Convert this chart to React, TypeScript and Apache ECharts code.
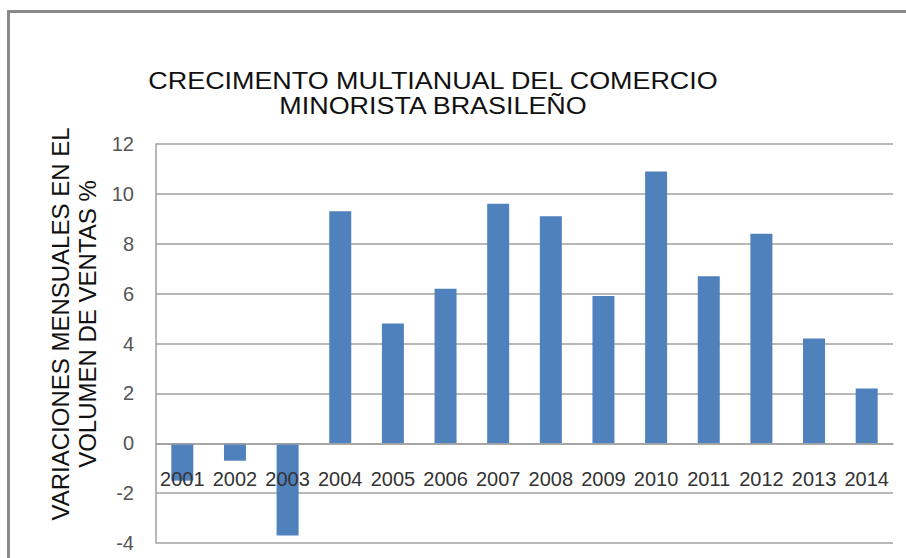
import React, { useEffect, useRef } from "react";
import * as echarts from "echarts";

const categories = ["2001", "2002", "2003", "2004", "2005", "2006", "2007", "2008", "2009", "2010", "2011", "2012", "2013", "2014"];
const values = [-1.5, -0.7, -3.7, 9.3, 4.8, 6.2, 9.6, 9.1, 5.9, 10.9, 6.7, 8.4, 4.2, 2.2];
const titleLines = ["CRECIMENTO MULTIANUAL DEL COMERCIO", "MINORISTA BRASILEÑO"];
const yNameLines = ["VARIACIONES MENSUALES EN EL", "VOLUMEN DE VENTAS %"];
const yMin = -4;
const yMax = 12;
const yStep = 2;

export default function App() {
  const ref = useRef<HTMLDivElement>(null);
  useEffect(() => {
    if (!ref.current) return;
    const chart = echarts.init(ref.current, null, { renderer: "svg" });
    const font = "'Liberation Sans', Arial, sans-serif";
    const H = 558;
    const grid = { left: 156, right: 13, top: 144, bottom: 15 };
    const plotH = H - grid.top - grid.bottom;
    const zeroOffset = -((0 - yMin) / (yMax - yMin)) * plotH;
    chart.setOption({
      animation: false,
      backgroundColor: "#ffffff",
      graphic: [
        {
          type: "rect",
          shape: { x: 8.5, y: 11.5, width: 920, height: 580 },
          style: { fill: "none", stroke: "#8a8a8a", lineWidth: 3 },
          silent: true,
        },
        {
          type: "text",
          x: 433,
          y: 68,
          scaleX: 1.17,
          style: {
            text: titleLines.join("\n"),
            fontFamily: font,
            fontSize: 23,
            lineHeight: 25,
            fill: "#111111",
            align: "center",
            verticalAlign: "top",
          },
          silent: true,
        },
        {
          type: "text",
          x: 74,
          y: 324,
          rotation: Math.PI / 2,
          style: {
            text: yNameLines.join("\n"),
            fontFamily: font,
            fontSize: 24,
            lineHeight: 27,
            fill: "#111111",
            align: "center",
            verticalAlign: "middle",
          },
          silent: true,
        },
      ],
      grid: { ...grid, containLabel: false, outerBoundsMode: "none" },
      xAxis: {
        type: "category",
        data: categories,
        z: 10,
        offset: zeroOffset,
        axisLine: { onZero: false, lineStyle: { color: "#a0a0a0", width: 1.5 } },
        axisTick: { show: false },
        axisLabel: { interval: 0, fontFamily: font, fontSize: 20, color: "#333333", margin: 26 },
      },
      yAxis: {
        type: "value",
        min: yMin,
        max: yMax,
        interval: yStep,
        axisLine: { show: true, lineStyle: { color: "#a0a0a0", width: 1.5 } },
        axisTick: { show: false },
        splitLine: { lineStyle: { color: "#a0a0a0", width: 1.5 } },
        axisLabel: { fontFamily: font, fontSize: 20, color: "#555555", margin: 22 },
      },
      series: [
        {
          type: "bar",
          data: values,
          barWidth: 22,
          itemStyle: { color: "#4f81bd" },
        },
      ],
    });
    return () => chart.dispose();
  }, []);
  return <div ref={ref} style={{ position: "absolute", left: 0, top: 0, width: 906, height: 558 }} />;
}
